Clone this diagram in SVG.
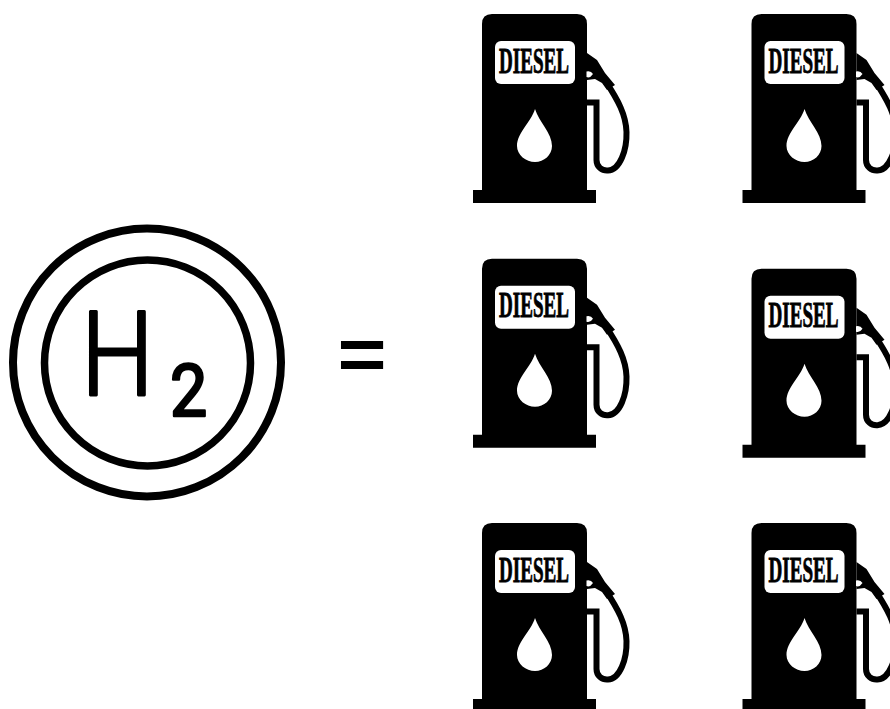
<svg xmlns="http://www.w3.org/2000/svg" width="890" height="709" viewBox="0 0 890 709">
<style>
.ring{fill:none;stroke:#000}
.lbl{font-family:"Liberation Serif",serif;font-weight:bold;font-size:35px;fill:#000;stroke:#000;stroke-width:.9px}
.h2{font-family:Roboto,"Liberation Sans",sans-serif;fill:#000;stroke:#000;stroke-linejoin:round}
</style>
<defs>
<g id="pump">
<path d="M473 203V190H482V24Q482 14 492 14H577Q587 14 587 24V190H596V203Z" fill="#000"/>
<rect x="495" y="41" width="80" height="43" rx="6" fill="#fff"/>
<path d="M535 109C539 122 552 133 552 146C552 155 544 162 535 162C526 162 517 155 517 146C517 133 531 122 535 109Z" fill="#fff"/>
<path d="M587 53L597 60L605 73L615 85L607 90L602 83L595 79L587 80Z" fill="#000"/>
<path d="M586.500 71.500Q591 70.500 593 74Q590 78.500 586.500 77Z" fill="#fff"/>
<path d="M587 102.500H596.500V160C596.500 167 602 171 608 170.500C620 170 627 150 626.500 132C626 115 618 100 606 82" fill="none" stroke="#000" stroke-width="6"/>
</g>
</defs>
<g id="hydrogen">
<circle class="ring" cx="147" cy="362.500" r="134" stroke-width="8"/>
<circle class="ring" cx="147.500" cy="363" r="103" stroke-width="7.500"/>
<text class="h2" transform="translate(81 394.500) scale(.88 1)" font-size="117" font-weight="300" stroke-width="3">H</text>
<text class="h2" transform="translate(170 415.500) scale(.92 1)" font-size="72" font-weight="400" stroke-width="2.500">2</text>
</g>
<g id="equals"><text transform="translate(362 380.400) scale(1 .875)" text-anchor="middle" font-family="Liberation Sans,sans-serif" font-weight="bold" font-size="84" fill="#000">=</text></g>
<g id="pump-1"><use href="#pump"/><text class="lbl" transform="translate(499 72.500) scale(.545 1)">DIESEL</text></g>
<g id="pump-2" transform="translate(269.500 0)"><use href="#pump"/><text class="lbl" transform="translate(499 72.500) scale(.545 1)">DIESEL</text></g>
<g id="pump-3" transform="translate(0 244.700)"><use href="#pump"/><text class="lbl" transform="translate(499 72.500) scale(.545 1)">DIESEL</text></g>
<g id="pump-4" transform="translate(269.500 254.700)"><use href="#pump"/><text class="lbl" transform="translate(499 72.500) scale(.545 1)">DIESEL</text></g>
<g id="pump-5" transform="translate(0 509)"><use href="#pump"/><text class="lbl" transform="translate(499 72.500) scale(.545 1)">DIESEL</text></g>
<g id="pump-6" transform="translate(269.500 509)"><use href="#pump"/><text class="lbl" transform="translate(499 72.500) scale(.545 1)">DIESEL</text></g>
<g id="connectors"/>
</svg>
